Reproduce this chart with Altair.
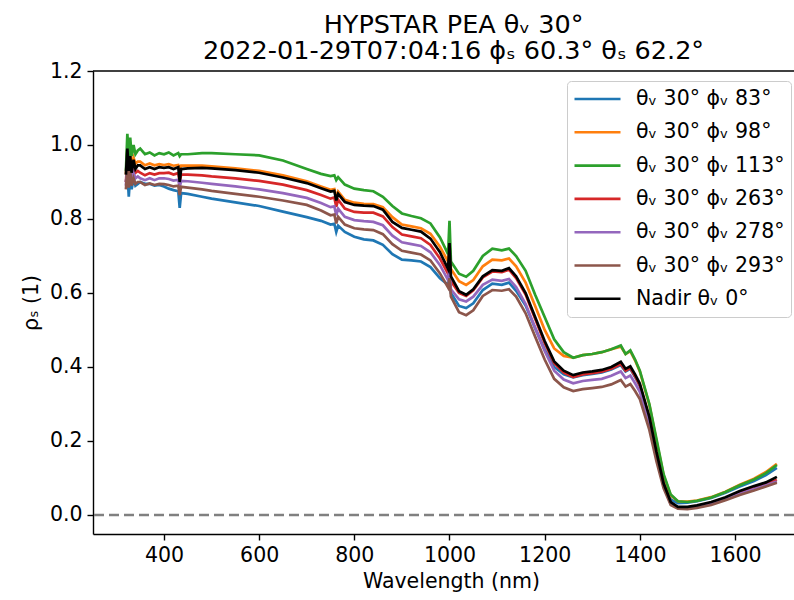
import altair as alt
import pandas as pd

wavelength = [320, 323, 326, 329, 332, 336, 340, 345,
              350, 360, 370, 380, 390, 400, 410, 420, 430, 433, 436, 450, 480, 500, 550, 600, 650, 700,
              730, 750, 758, 762, 766, 780, 800, 820, 840, 860, 880, 900, 920, 940, 960, 980,
              997, 1000, 1003,
              1020, 1035, 1050, 1070, 1090, 1110, 1125, 1140, 1160, 1180, 1200, 1220, 1240, 1260, 1280,
              1300, 1320, 1340, 1360, 1370, 1380, 1390, 1400, 1420, 1435, 1450, 1465, 1480, 1500, 1520,
              1550, 1580, 1610, 1640, 1665, 1688]

phi_83 = [0.90, 0.93, 0.86, 0.92, 0.88, 0.91, 0.89, 0.895,
          0.90, 0.895, 0.895, 0.89, 0.892, 0.888, 0.882, 0.878, 0.875, 0.83, 0.87, 0.868, 0.86, 0.855, 0.845, 0.835, 0.82, 0.805,
          0.795, 0.785, 0.787, 0.765, 0.782, 0.765, 0.752, 0.745, 0.742, 0.73, 0.705, 0.69, 0.688, 0.685, 0.67, 0.64,
          0.622, 0.64, 0.60,
          0.565, 0.559, 0.572, 0.608, 0.625, 0.622, 0.628, 0.606, 0.566, 0.505, 0.447, 0.40, 0.38, 0.372, 0.378,
          0.381, 0.385, 0.393, 0.405, 0.388, 0.395, 0.373, 0.348, 0.262, 0.17, 0.09, 0.042, 0.032, 0.033, 0.037,
          0.046, 0.06, 0.077, 0.092, 0.108, 0.127]

phi_98 = [0.92, 0.99, 0.94, 0.98, 0.94, 0.965, 0.95, 0.955,
          0.955, 0.945, 0.95, 0.945, 0.948, 0.946, 0.948, 0.944, 0.946, 0.935, 0.944, 0.944, 0.944, 0.942, 0.937, 0.93, 0.918, 0.902,
          0.888, 0.879, 0.881, 0.857, 0.874, 0.852, 0.844, 0.841, 0.840, 0.832, 0.805, 0.785, 0.78, 0.775, 0.76, 0.725,
          0.685, 0.74, 0.665,
          0.632, 0.622, 0.635, 0.672, 0.69, 0.688, 0.693, 0.672, 0.628, 0.565, 0.50, 0.45, 0.43, 0.425, 0.432,
          0.435, 0.44, 0.448, 0.455, 0.435, 0.443, 0.418, 0.388, 0.298, 0.20, 0.107, 0.053, 0.037, 0.036, 0.039,
          0.048, 0.063, 0.082, 0.098, 0.116, 0.138]

phi_113 = [0.93, 1.03, 0.96, 1.02, 0.97, 1.00, 0.975, 0.985,
           0.99, 0.975, 0.98, 0.972, 0.978, 0.975, 0.98, 0.972, 0.978, 0.97, 0.975, 0.975, 0.978, 0.978, 0.975, 0.972, 0.958, 0.935,
           0.922, 0.916, 0.918, 0.905, 0.913, 0.893, 0.882, 0.878, 0.875, 0.86, 0.835, 0.815, 0.808, 0.802, 0.788, 0.75,
           0.705, 0.795, 0.685,
           0.652, 0.644, 0.66, 0.70, 0.72, 0.715, 0.72, 0.70, 0.66, 0.595, 0.535, 0.475, 0.44, 0.425, 0.432,
           0.435, 0.44, 0.448, 0.458, 0.435, 0.445, 0.42, 0.39, 0.30, 0.205, 0.11, 0.055, 0.037, 0.035, 0.038,
           0.047, 0.062, 0.08, 0.096, 0.113, 0.135]

phi_263 = [0.90, 0.96, 0.91, 0.95, 0.92, 0.94, 0.925, 0.93,
           0.925, 0.918, 0.924, 0.92, 0.924, 0.924, 0.925, 0.92, 0.924, 0.90, 0.92, 0.92, 0.918, 0.915, 0.91, 0.903, 0.893, 0.878,
           0.865, 0.855, 0.858, 0.833, 0.852, 0.828, 0.819, 0.817, 0.817, 0.807, 0.778, 0.758, 0.753, 0.748, 0.73, 0.693,
           0.652, 0.70, 0.632,
           0.60, 0.592, 0.607, 0.642, 0.658, 0.656, 0.663, 0.64, 0.596, 0.53, 0.465, 0.41, 0.385, 0.373, 0.38,
           0.383, 0.387, 0.395, 0.408, 0.39, 0.397, 0.375, 0.35, 0.26, 0.165, 0.082, 0.032, 0.02, 0.02, 0.024,
           0.032, 0.045, 0.06, 0.073, 0.083, 0.095]

phi_278 = [0.89, 0.95, 0.90, 0.94, 0.90, 0.925, 0.91, 0.915,
           0.91, 0.905, 0.91, 0.905, 0.91, 0.91, 0.908, 0.904, 0.906, 0.885, 0.903, 0.902, 0.898, 0.895, 0.888, 0.88, 0.87, 0.857,
           0.843, 0.832, 0.834, 0.81, 0.828, 0.806, 0.797, 0.794, 0.792, 0.783, 0.755, 0.737, 0.732, 0.727, 0.71, 0.675,
           0.635, 0.668, 0.61,
           0.583, 0.577, 0.59, 0.622, 0.636, 0.633, 0.638, 0.616, 0.57, 0.505, 0.443, 0.39, 0.366, 0.356, 0.362,
           0.365, 0.368, 0.376, 0.388, 0.37, 0.377, 0.356, 0.333, 0.245, 0.155, 0.078, 0.03, 0.02, 0.02, 0.023,
           0.031, 0.043, 0.057, 0.07, 0.08, 0.09]

phi_293 = [0.88, 0.94, 0.885, 0.93, 0.89, 0.91, 0.895, 0.90,
           0.90, 0.892, 0.896, 0.892, 0.895, 0.894, 0.892, 0.888, 0.89, 0.865, 0.887, 0.885, 0.88, 0.876, 0.868, 0.86, 0.85, 0.838,
           0.823, 0.81, 0.812, 0.788, 0.806, 0.785, 0.775, 0.772, 0.77, 0.759, 0.732, 0.714, 0.709, 0.704, 0.688, 0.653,
           0.615, 0.64, 0.59,
           0.548, 0.54, 0.553, 0.592, 0.608, 0.606, 0.61, 0.59, 0.545, 0.482, 0.42, 0.368, 0.345, 0.335, 0.34,
           0.343, 0.346, 0.353, 0.365, 0.347, 0.354, 0.335, 0.313, 0.23, 0.145, 0.072, 0.027, 0.017, 0.016, 0.019,
           0.027, 0.04, 0.054, 0.066, 0.077, 0.087]

nadir = [0.92, 0.99, 0.93, 0.97, 0.925, 0.96, 0.935, 0.945,
         0.945, 0.935, 0.94, 0.935, 0.94, 0.938, 0.94, 0.935, 0.94, 0.90, 0.935, 0.937, 0.938, 0.937, 0.932, 0.925, 0.912, 0.897,
         0.883, 0.874, 0.876, 0.85, 0.868, 0.846, 0.838, 0.836, 0.835, 0.825, 0.792, 0.776, 0.771, 0.766, 0.747, 0.71,
         0.665, 0.735, 0.645,
         0.605, 0.595, 0.61, 0.645, 0.662, 0.66, 0.667, 0.645, 0.60, 0.535, 0.47, 0.415, 0.39, 0.378, 0.385,
         0.388, 0.392, 0.40, 0.414, 0.395, 0.402, 0.38, 0.355, 0.265, 0.17, 0.085, 0.035, 0.022, 0.022, 0.026,
         0.035, 0.048, 0.065, 0.078, 0.088, 0.103]

series_labels = ["θᵥ 30° ϕᵥ 83°", "θᵥ 30° ϕᵥ 98°", "θᵥ 30° ϕᵥ 113°", "θᵥ 30° ϕᵥ 263°",
                 "θᵥ 30° ϕᵥ 278°", "θᵥ 30° ϕᵥ 293°", "Nadir θᵥ 0°"]
series_colors = ["#1f77b4", "#ff7f0e", "#2ca02c", "#d62728", "#9467bd", "#8c564b", "#000000"]
series_values = [phi_83, phi_98, phi_113, phi_263, phi_278, phi_293, nadir]

x_ticks = [400, 600, 800, 1000, 1200, 1400, 1600]
y_ticks = [0.0, 0.2, 0.4, 0.6, 0.8, 1.0, 1.2]

rows = []
for lab, vals in zip(series_labels, series_values):
    for i, (w, v) in enumerate(zip(wavelength, vals)):
        rows.append({"wl": w, "rho": v, "series": lab, "idx": i})
df = pd.DataFrame(rows)

FONT = "DejaVu Sans"
x_scale = alt.Scale(domain=[250.8, 1724.0], nice=False, zero=False)
y_scale = alt.Scale(domain=[-0.0515, 1.2], nice=False, zero=False)
y_axis = alt.Axis(title="ρₛ (1)", values=y_ticks, format=".1f", titlePadding=8)

lines = alt.Chart(df).mark_line(strokeWidth=2.7, clip=True).encode(
    x=alt.X("wl:Q", scale=x_scale,
            axis=alt.Axis(title="Wavelength (nm)", values=x_ticks, format="d",
                          titleX=358, titlePadding=6)),
    y=alt.Y("rho:Q", scale=y_scale, axis=y_axis),
    color=alt.Color("series:N",
                    scale=alt.Scale(domain=series_labels, range=series_colors),
                    legend=alt.Legend(title=None, orient="none", legendX=474, legendY=10,
                                      symbolType="stroke", symbolSize=2116, symbolStrokeWidth=2.6,
                                      labelFontSize=20.5, labelFont=FONT, labelColor="black",
                                      labelLimit=400, clipHeight=24, rowPadding=9.3, padding=6,
                                      fillColor="rgba(255,255,255,0.8)", strokeColor="#cccccc",
                                      cornerRadius=4, labelOffset=14)),
    order=alt.Order("idx:Q"),
)

zero_line = alt.Chart(pd.DataFrame({"rho": [0.0]})).mark_rule(
    color="#808080", strokeDash=[10, 5], strokeWidth=2.6
).encode(y=alt.Y("rho:Q", scale=y_scale, axis=y_axis))

top_spine = alt.Chart(pd.DataFrame({"rho": [1.2]})).mark_rule(
    color="black", strokeWidth=1.4
).encode(y=alt.Y("rho:Q", scale=y_scale, axis=y_axis))

chart = alt.layer(lines, zero_line, top_spine).properties(
    width=701, height=463,
    background="white",
    autosize=alt.AutoSizeParams(type="none"),
    padding={"left": 93, "top": 71, "right": 0, "bottom": 66},
    title=alt.TitleParams(
        text=["HYPSTAR PEA θᵥ 30°", "2022-01-29T07:04:16 ϕₛ 60.3° θₛ 62.2°"],
        fontSize=25.5, font=FONT, fontWeight="normal", color="black",
        anchor="middle", offset=-3, lineHeight=26, dx=10),
).configure_view(stroke=None).configure_axis(
    domainColor="black", domainWidth=1.4, tickColor="black", tickWidth=1.4, tickSize=6,
    labelPadding=5, labelFontSize=20.5, labelFont=FONT, labelColor="black",
    titleFontSize=20.5, titleFont=FONT, titleFontWeight="normal", titleColor="black",
    grid=False, labelFlush=False,
)

chart.save("out.html", embed_options={"renderer": "svg", "actions": False})
